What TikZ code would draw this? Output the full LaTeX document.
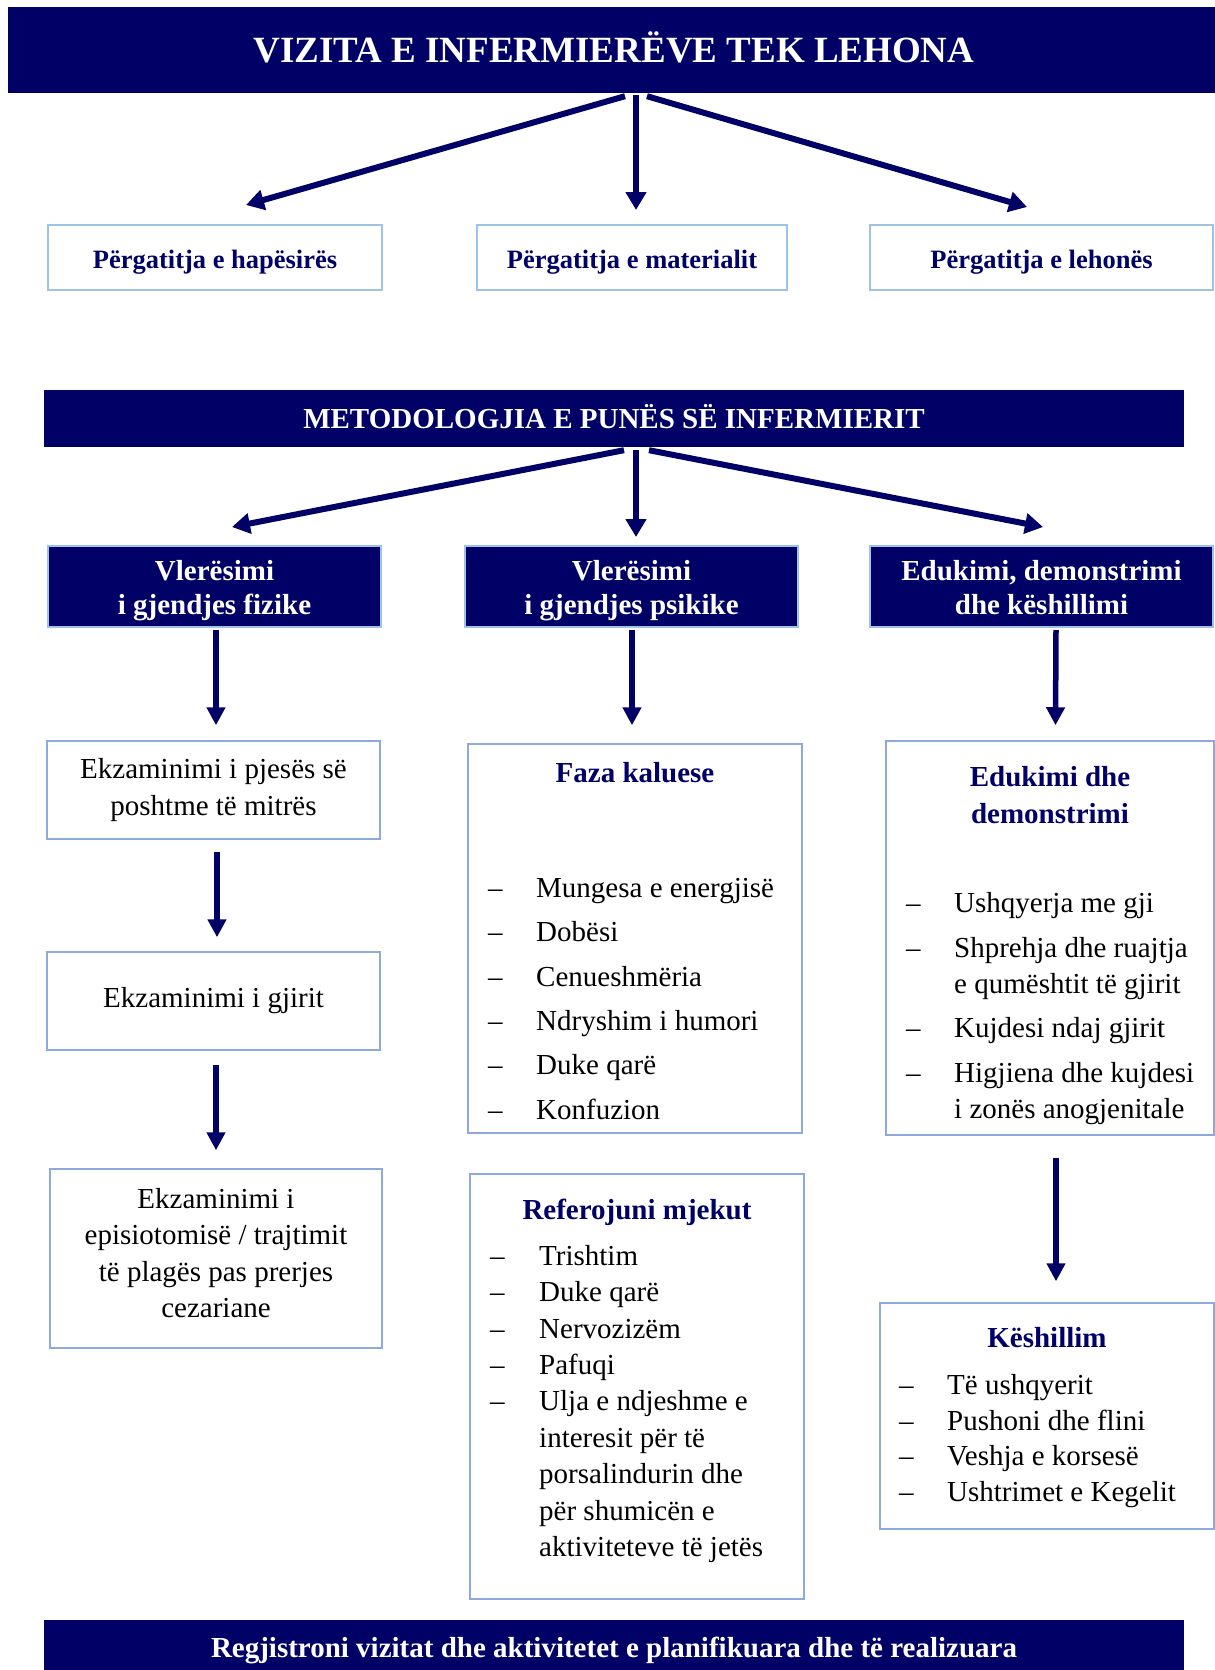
\documentclass[tikz,border=0pt]{standalone}
\usepackage{fontspec}
\setmainfont{Liberation Serif}
\usetikzlibrary{arrows.meta}
\definecolor{navy}{HTML}{000066}
\definecolor{paleblue}{HTML}{9DC3E6}
\definecolor{frameblue}{HTML}{8EA9DB}

\tikzset{
banner/.style={fill=navy, text=white, inner sep=0pt, font=\bfseries\fontsize{29}{34}\selectfont, text height=19.2pt, text depth=0pt},
prepbox/.style={draw=paleblue, line width=2pt, text=navy, font=\bfseries\fontsize{26.5}{32}\selectfont, minimum height=65pt, text height=21.4pt, text depth=0pt},
evalbox/.style={draw=paleblue, line width=2pt, fill=navy, minimum height=81pt},
evaltext/.style={text=white, align=center, font=\bfseries\fontsize{29}{34}\selectfont},
exambox/.style={draw=frameblue, line width=1.5pt, align=center, font=\fontsize{29}{36.5}\selectfont, minimum width=333pt},
examtext/.style={align=center, font=\fontsize{29}{36.5}\selectfont},
listbox/.style={draw=frameblue, line width=1.5pt},
listhead/.style={text=navy, align=center, inner sep=0pt, font=\bfseries\fontsize{29}{37}\selectfont},
listitem/.style={anchor=mid west, inner sep=0pt, yshift=-7pt, font=\fontsize{29}{36}\selectfont},
bigarrow/.style={draw=navy, line width=6pt, -{Triangle[length=18pt,width=20pt]}},
downarrow/.style={draw=navy, line width=5.5pt, -{Triangle[length=18pt,width=18pt]}},
}

\begin{document}
\begin{tikzpicture}[x=1pt,y=-1pt]
\useasboundingbox (0,0) rectangle (1215,1670);

% vizita
\node[banner, minimum width=1212pt, minimum height=86pt, font=\bfseries\fontsize{37}{44}\selectfont, text height=24.5pt] (visit) at (614,50) {VIZITA E INFERMIERËVE TEK LEHONA};
\node[prepbox, minimum width=334pt] (space) at (215,257.5) {Përgatitja e hapësirës};
\node[prepbox, minimum width=310pt] (material) at (632,257.5) {Përgatitja e materialit};
\node[prepbox, minimum width=343pt] (mother) at (1041.5,257.5) {Përgatitja e lehonës};
\draw[bigarrow] ([xshift=11pt,yshift=-3pt]visit.south) -- ([xshift=31pt,yshift=19pt]space.north);
\draw[bigarrow] ([xshift=22pt,yshift=-2pt]visit.south) -- ([xshift=4pt,yshift=14pt]material.north);
\draw[bigarrow] ([xshift=33pt,yshift=-3pt]visit.south) -- ([xshift=-14.5pt,yshift=17pt]mother.north);

% metodologjia
\node[banner, minimum width=1140pt, minimum height=57pt] (method) at (614,418.5) {METODOLOGJIA E PUNËS SË INFERMIERIT};
\node[evalbox, minimum width=333pt] (physical) at (214.5,586.5) {};
\node[evalbox, minimum width=333pt] (mental) at (631.5,586.5) {};
\node[evalbox, minimum width=343pt] (advice) at (1041.5,586.5) {};
\node[evaltext] (physicaltext) at (214.5,591) {Vlerësimi\\i gjendjes fizike};
\node[evaltext] (mentaltext) at (631.5,591) {Vlerësimi\\i gjendjes psikike};
\node[evaltext] (advicetext) at (1041.5,587.5) {Edukimi, demonstrimi\\dhe këshillimi};
\draw[bigarrow] ([xshift=10pt,yshift=-3pt]method.south) -- ([xshift=17.5pt,yshift=18pt]physical.north);
\draw[bigarrow] ([xshift=22pt,yshift=-3pt]method.south) -- ([xshift=4.5pt,yshift=8pt]mental.north);
\draw[bigarrow] ([xshift=35pt,yshift=-3pt]method.south) -- ([xshift=1.5pt,yshift=18pt]advice.north);

% gjendja fizike
\node[exambox, minimum height=98pt] (uterus) at (213.5,790) {Ekzaminimi i pjesës së\\poshtme të mitrës};
\node[exambox, minimum height=98pt] (breast) at (213.5,1001) {Ekzaminimi i gjirit};
\node[exambox, minimum width=332pt, minimum height=179pt] (wound) at (216,1258.5) {};
\node[examtext] (woundtext) at (216,1253.2) {Ekzaminimi i\\episiotomisë / trajtimit\\të plagës pas prerjes\\cezariane};
\draw[downarrow] ([xshift=1.5pt,yshift=-2pt]physical.south) -- ([xshift=2.5pt,yshift=15pt]uterus.north);
\draw[downarrow] ([xshift=3.5pt,yshift=-12pt]uterus.south) -- ([xshift=3.5pt,yshift=14pt]breast.north);
\draw[downarrow] ([xshift=2.5pt,yshift=-14pt]breast.south) -- ([yshift=18pt]wound.north);

% gjendja psikike
\node[listbox, minimum width=334pt, minimum height=389pt] (phase) at (635,938.5) {};
\node[listhead] (phasehead) at (635,773) {Faza kaluese};
\foreach \t [count=\i] in {Mungesa e energjisë, Dobësi, Cenueshmëria, Ndryshim i humori, Duke qarë, Konfuzion} {
  \node[listitem] (phasedash\i) at (488,{888+44.4*(\i-1)}) {–};
  \node[listitem] (phaseitem\i) at (536,{888+44.4*(\i-1)}) {\t};
}
\node[listbox, minimum width=334pt, minimum height=425pt] (doctor) at (637,1386.5) {};
\node[listhead] (doctorhead) at (637,1212) {Referojuni mjekut};
\foreach \t [count=\i] in {Trishtim, Duke qarë, Nervozizëm, Pafuqi, Ulja e ndjeshme e, interesit për të, porsalindurin dhe, për shumicën e, aktiviteteve të jetës}
  \node[listitem] (doctoritem\i) at (539,{1256+36.4*(\i-1)}) {\t};
\foreach \i in {1,...,5}
  \node[listitem] (doctordash\i) at (490,{1256+36.4*(\i-1)}) {–};
\draw[downarrow] ([xshift=0.5pt,yshift=-2pt]mental.south) -- ([xshift=-3pt,yshift=18pt]phase.north);

% edukimi dhe keshillimi
\node[listbox, minimum width=328pt, minimum height=394pt] (teach) at (1050,938) {};
\node[listhead] (teachhead) at (1050,795.5) {Edukimi dhe\\demonstrimi};
\foreach \y/\t in {903/Ushqyerja me gji, 948/Shprehja dhe ruajtja, 984/e qumështit të gjirit, 1028/Kujdesi ndaj gjirit, 1073/Higjiena dhe kujdesi, 1109/i zonës anogjenitale}
  \node[listitem] (teach\y) at (954,\y) {\t};
\foreach \y in {903,948,1028,1073}
  \node[listitem] (teachdash\y) at (906,\y) {–};
\node[listbox, minimum width=334pt, minimum height=226pt] (counsel) at (1047,1416) {};
\node[listhead] (counselhead) at (1047,1338) {Këshillim};
\foreach \t [count=\i] in {Të ushqyerit, Pushoni dhe flini, Veshja e korsesë, Ushtrimet e Kegelit} {
  \node[listitem] (counseldash\i) at (899,{1385+35.7*(\i-1)}) {–};
  \node[listitem] (counselitem\i) at (947,{1385+35.7*(\i-1)}) {\t};
}
\draw[downarrow] ([xshift=14.5pt,yshift=-2pt]advice.south) -- ([xshift=5.5pt,yshift=15pt]teach.north);
\draw[downarrow] ([xshift=6pt,yshift=-22pt]teach.south) -- ([xshift=9pt,yshift=21pt]counsel.north);

% regjistrimi
\node[banner, minimum width=1140pt, minimum height=54pt, text height=24pt, text depth=4pt] (record) at (614,1647) {Regjistroni vizitat dhe aktivitetet e planifikuara dhe të realizuara};
\end{tikzpicture}
\end{document}
